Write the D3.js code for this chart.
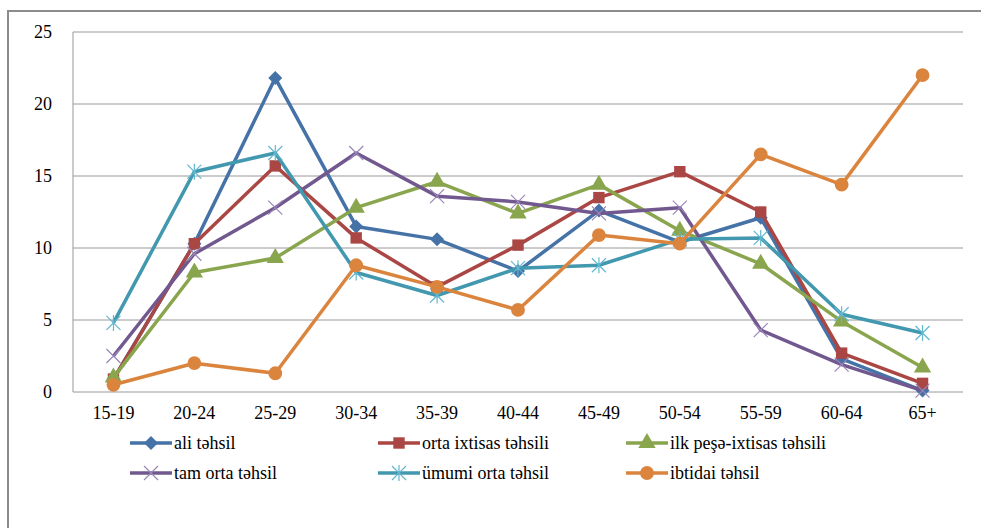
<!DOCTYPE html>
<html>
<head>
<meta charset="utf-8">
<script src="https://cdn.jsdelivr.net/npm/d3@7"></script>
<style>
  body { margin: 0; background: #fff; }
  svg text { font-family: "Liberation Serif", "DejaVu Serif", serif; }
</style>
</head>
<body>
<div class="chart"></div>
<script>
// age groups
const ageGroups = ["15-19", "20-24", "25-29", "30-34", "35-39", "40-44", "45-49", "50-54", "55-59", "60-64", "65+"];
const yTicks = [0, 5, 10, 15, 20, 25];

// series values (percent)
const aliTehsil = [0.9, 10.3, 21.8, 11.5, 10.6, 8.4, 12.6, 10.4, 12.1, 2.3, 0.1];
const ortaIxtisas = [0.9, 10.3, 15.7, 10.7, 7.3, 10.2, 13.5, 15.3, 12.5, 2.7, 0.6];
const ilkPese = [1.0, 8.3, 9.3, 12.8, 14.6, 12.4, 14.4, 11.2, 8.9, 4.9, 1.7];
const tamOrta = [2.5, 9.6, 12.8, 16.6, 13.6, 13.2, 12.4, 12.8, 4.3, 1.9, 0.1];
const umumiOrta = [4.8, 15.3, 16.6, 8.3, 6.7, 8.6, 8.8, 10.6, 10.7, 5.4, 4.1];
const ibtidai = [0.5, 2.0, 1.3, 8.8, 7.3, 5.7, 10.9, 10.3, 16.5, 14.4, 22.0];

const seriesNames = ["ali təhsil", "orta ixtisas təhsili", "ilk peşə-ixtisas təhsili",
  "tam orta təhsil", "ümumi orta təhsil", "ibtidai təhsil"];

const series = [
  { name: seriesNames[0], values: aliTehsil, color: "#4572A7", marker: "diamond" },
  { name: seriesNames[1], values: ortaIxtisas, color: "#AA4643", marker: "square" },
  { name: seriesNames[2], values: ilkPese, color: "#89A54E", marker: "triangle" },
  { name: seriesNames[3], values: tamOrta, color: "#71588F", marker: "cross" },
  { name: seriesNames[4], values: umumiOrta, color: "#4198AF", marker: "star" },
  { name: seriesNames[5], values: ibtidai, color: "#DB843D", marker: "circle" }
];

const width = 981, height = 528;
const margin = { left: 73, top: 32, right: 18, bottom: 136 };

const svg = d3.select(".chart").append("svg")
  .attr("width", width).attr("height", height);

// outer frame
svg.append("rect")
  .attr("x", 8).attr("y", 11)
  .attr("width", 990).attr("height", 540)
  .attr("fill", "none").attr("stroke", "#8c8c8c").attr("stroke-width", 2);

const x = d3.scaleBand().domain(ageGroups)
  .range([margin.left, width - margin.right]);
const y = d3.scaleLinear().domain([0, 25])
  .range([height - margin.bottom, margin.top]);

// grid lines
svg.append("g")
  .selectAll("line").data(yTicks).join("line")
  .attr("x1", margin.left).attr("x2", width - margin.right)
  .attr("y1", d => y(d)).attr("y2", d => y(d))
  .attr("stroke", "#989898").attr("stroke-width", 1);

// y axis line
svg.append("line")
  .attr("x1", margin.left).attr("x2", margin.left)
  .attr("y1", y(25)).attr("y2", y(0))
  .attr("stroke", "#989898");

// y tick labels
svg.append("g")
  .selectAll("text").data(yTicks).join("text")
  .attr("x", 52).attr("y", d => y(d) + 6)
  .attr("text-anchor", "end")
  .style("font-size", "18px")
  .text(d => d);

// x tick labels
svg.append("g")
  .selectAll("text").data(ageGroups).join("text")
  .attr("x", d => x(d) + x.bandwidth() / 2)
  .attr("y", 419)
  .attr("text-anchor", "middle")
  .style("font-size", "18px")
  .text(d => d);

const symbolFor = {
  square: d3.symbol().type(d3.symbolSquare).size(130),
  triangle: d3.symbol().type(d3.symbolTriangle).size(130),
  circle: d3.symbol().type(d3.symbolCircle).size(150)
};

function drawMarker(g, kind, color) {
  if (kind === "cross") {
    g.append("path").attr("d", "M-7,-7L7,7M-7,7L7,-7")
      .attr("stroke", "#9b86b8").attr("stroke-width", 1.2).attr("fill", "none");
  } else if (kind === "star") {
    g.append("path").attr("d", "M-7,-7L7,7M-7,7L7,-7M0,-8L0,8")
      .attr("stroke", "#62b7cf").attr("stroke-width", 1.2).attr("fill", "none");
  } else if (kind === "diamond") {
    g.append("path").attr("d", "M0,-7L7,0L0,7L-7,0Z").attr("fill", color);
  } else {
    g.append("path").attr("d", symbolFor[kind]()).attr("fill", color);
  }
}

const line = d3.line()
  .x((d, i) => x(ageGroups[i]) + x.bandwidth() / 2)
  .y(d => y(d));

series.forEach(s => {
  const g = svg.append("g");
  g.append("path")
    .attr("d", line(s.values))
    .attr("fill", "none")
    .attr("stroke", s.color)
    .attr("stroke-width", 3.5)
    .attr("stroke-linejoin", "round");
  s.values.forEach((v, i) => {
    const m = g.append("g")
      .attr("transform", `translate(${x(ageGroups[i]) + x.bandwidth() / 2},${y(v)})`);
    drawMarker(m, s.marker, s.color);
  });
});

// legend
const legendPos = [[130, 443], [378, 443], [626, 443], [130, 473], [378, 473], [626, 473]];
series.forEach((s, i) => {
  const [lx, ly] = legendPos[i];
  const g = svg.append("g").attr("transform", `translate(${lx},${ly})`);
  g.append("line").attr("x1", 0).attr("x2", 42).attr("y1", 0).attr("y2", 0)
    .attr("stroke", s.color).attr("stroke-width", 3.5);
  const m = g.append("g").attr("transform", "translate(21,0)");
  drawMarker(m, s.marker, s.color);
  g.append("text").attr("x", 44).attr("y", 6)
    .style("font-size", "18px")
    .text(s.name);
});
</script>
</body>
</html>
